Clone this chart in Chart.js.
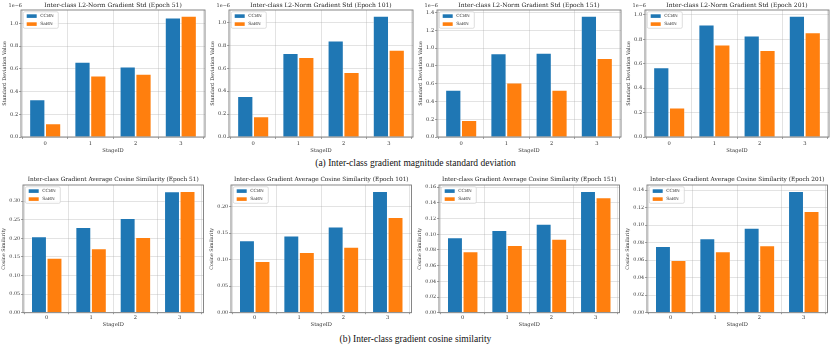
<!DOCTYPE html>
<html>
<head>
<meta charset="utf-8">
<script src="https://cdn.jsdelivr.net/npm/chart.js@4.4.0/dist/chart.umd.min.js"></script>
<style>
body{margin:0;background:#fff;width:831px;height:350px;position:relative;overflow:hidden}
canvas{position:absolute}
.cap{position:absolute;left:0;width:831px;text-align:center;font-family:"Liberation Serif",serif;font-size:9.5px;color:#111;line-height:1}
</style>
</head>
<body>
<div class="cap" style="top:159px">(a) Inter-class gradient magnitude standard deviation</div>
<div class="cap" style="top:335px">(b) Inter-class gradient cosine similarity</div>
<script>
var stages = ['0', '1', '2', '3'];
var epochs = [51, 101, 151, 201];
var seriesNames = ['CCBN', 'SaBN'];

// std of gradient L2 norm, in units of 1e-6
var stdCCBN = [[0.33, 0.66, 0.62, 1.05], [0.355, 0.73, 0.84, 1.055], [0.53, 0.94, 0.945, 1.36], [0.57, 0.92, 0.83, 0.99]];
var stdSaBN = [[0.12, 0.54, 0.555, 1.065], [0.18, 0.695, 0.565, 0.76], [0.19, 0.61, 0.53, 0.885], [0.24, 0.755, 0.71, 0.855]];
var stdStep = [0.2, 0.2, 0.2, 0.2];

// average cosine similarity
var cosCCBN = [[0.205, 0.23, 0.254, 0.326], [0.136, 0.145, 0.162, 0.229], [0.096, 0.105, 0.113, 0.155], [0.076, 0.085, 0.097, 0.139]];
var cosSaBN = [[0.147, 0.173, 0.203, 0.327], [0.097, 0.114, 0.124, 0.18], [0.078, 0.086, 0.094, 0.147], [0.060, 0.070, 0.077, 0.116]];
var cosStep = [0.05, 0.05, 0.02, 0.02];

var colors = ['#1f77b4', '#ff7f0e'];
var FONT = '"DejaVu Serif", serif';

// frame, legend inside the axes and the 1e-6 offset text
var extras = {
	id: 'extras',
	afterDraw: function(chart){
		var ctx = chart.ctx, a = chart.chartArea, o = chart.options.plugins.extras;
		ctx.save();
		ctx.strokeStyle = '#7a7a7a';
		ctx.lineWidth = 0.9;
		ctx.strokeRect(a.left, a.top, a.right - a.left, a.bottom - a.top);

		var bx = a.left + 2.3, by = a.top + 1.8, bw = 35, bh = 16.5;
		ctx.fillStyle = 'rgba(255,255,255,0.85)';
		ctx.strokeStyle = '#d0d0d0';
		ctx.lineWidth = 0.7;
		ctx.beginPath();
		ctx.roundRect(bx, by, bw, bh, 1.5);
		ctx.fill();
		ctx.stroke();
		ctx.font = '4.3px ' + FONT;
		ctx.textBaseline = 'middle';
		chart.data.datasets.forEach(function(ds, i){
			var cy = by + 4.3 + i * 8;
			ctx.fillStyle = ds.backgroundColor;
			ctx.fillRect(bx + 3.4, cy - 1.8, 10, 3.6);
			ctx.fillStyle = '#333';
			ctx.fillText(ds.label, bx + 17, cy);
		});

		if (o.offsetText){
			ctx.font = '5px ' + FONT;
			ctx.fillStyle = '#333';
			ctx.textAlign = 'right';
			ctx.fillText(o.offsetText, a.left + 1, a.top - 4);
		}
		ctx.restore();
	}
};

function keepMultiples(step, lo, hi){
	return function(axis){
		axis.ticks = axis.ticks.filter(function(t){
			var k = t.value / step;
			return Math.abs(k - Math.round(k)) < 1e-6 && t.value >= lo - 1e-9 && t.value <= hi + 1e-9;
		});
	};
}

function makePanel(cfg){
	var c = document.createElement('canvas');
	c.width = 208; c.height = 160;
	c.style.left = cfg.left + 'px';
	c.style.top = cfg.top + 'px';
	c.style.width = '208px'; c.style.height = '160px';
	document.body.appendChild(c);

	var ymax = Math.max.apply(null, cfg.a.concat(cfg.b)) * 1.05;
	var gridColor = 'rgba(176,176,176,0.5)';

	new Chart(c, {
		type: 'bar',
		data: {
			datasets: [cfg.a, cfg.b].map(function(vals, i){
				return {
					label: seriesNames[i],
					data: vals.map(function(v, k){ return {x: k, y: v}; }),
					backgroundColor: colors[i],
					borderColor: 'rgba(255,255,255,0.35)',
					borderWidth: 0.8,
					categoryPercentage: 0.7,
					barPercentage: 1
				};
			})
		},
		options: {
			responsive: false,
			animation: false,
			devicePixelRatio: 1,
			layout: {padding: {left: 0, right: cfg.padRight, top: cfg.padTop, bottom: 0}},
			plugins: {
				legend: {display: false},
				tooltip: {enabled: false},
				title: {
					display: true,
					text: cfg.title,
					fullSize: false,
					color: '#222',
					font: {family: FONT, size: cfg.titleSize, weight: 'normal', lineHeight: 1.2},
					padding: cfg.titlePad
				},
				extras: {offsetText: cfg.offsetText}
			},
			scales: {
				x: {
					type: 'linear',
					min: -0.535,
					max: 3.535,
					offset: false,
					z: 1,
					afterBuildTicks: keepMultiples(1, 0, 3),
					afterFit: function(s){ s.height = cfg.xHeight; },
					grid: {color: gridColor, lineWidth: 0.7, tickLength: cfg.xTick, tickColor: '#7a7a7a', tickWidth: 0.7},
					border: {display: false},
					ticks: {
						stepSize: 1,
						includeBounds: false,
						autoSkip: false,
						padding: cfg.xPad,
						color: '#333',
						font: {family: FONT, size: 5.2},
						maxRotation: 0,
						callback: function(v){ return stages[v]; }
					},
					title: {display: true, text: 'StageID', color: '#333', font: {family: FONT, size: 5.2, lineHeight: 1.2}, padding: {top: 0, bottom: cfg.xTitlePad}}
				},
				y: {
					min: 0,
					max: ymax,
					z: 1,
					afterBuildTicks: keepMultiples(cfg.step, 0, ymax),
					afterFit: function(s){ s.width = cfg.yWidth; },
					grid: {color: gridColor, lineWidth: 0.7, tickLength: 2, tickColor: '#7a7a7a', tickWidth: 0.7},
					border: {display: false},
					ticks: {
						stepSize: cfg.step,
						includeBounds: false,
						autoSkip: false,
						padding: 0.8,
						color: '#333',
						font: {family: FONT, size: cfg.yTickSize},
						callback: function(v){ return v.toFixed(cfg.decimals); }
					},
					title: {display: true, text: cfg.yTitle, color: '#333', font: {family: FONT, size: cfg.yTitleSize, lineHeight: 1.2}, padding: {top: cfg.yTitlePad, bottom: 0}}
				}
			}
		},
		plugins: [extras]
	});
}

for (var i = 0; i < 4; i++){
	makePanel({
		left: i * 208, top: 0,
		a: stdCCBN[i], b: stdSaBN[i], step: stdStep[i], decimals: 1,
		title: 'Inter-class L2-Norm Gradient Std (Epoch ' + epochs[i] + ')',
		titleSize: 6, titlePad: {top: 1.4, bottom: 1.4}, padTop: 0, padRight: 3,
		yWidth: 21, xHeight: 23, xTick: 2, xPad: 1.7, xTitlePad: 6.5,
		yTitle: 'Standard Deviation Value', yTitleSize: 5, yTitlePad: 2, yTickSize: 5.2,
		offsetText: '1e\u22126'
	});
	makePanel({
		left: i * 208, top: 175,
		a: cosCCBN[i], b: cosSaBN[i], step: cosStep[i], decimals: 2,
		title: 'Inter-class Gradient Average Cosine Similarity (Epoch ' + epochs[i] + ')',
		titleSize: 5.8, titlePad: {top: 0.8, bottom: 2.2}, padTop: 0.04, padRight: 4.5,
		yWidth: 23, xHeight: 22.3, xTick: 1.5, xPad: 0.2, xTitlePad: 7.6,
		yTitle: 'Cosine Similarity', yTitleSize: 4.8, yTitlePad: 1, yTickSize: 4.9,
		offsetText: null
	});
}
</script>
</body>
</html>
